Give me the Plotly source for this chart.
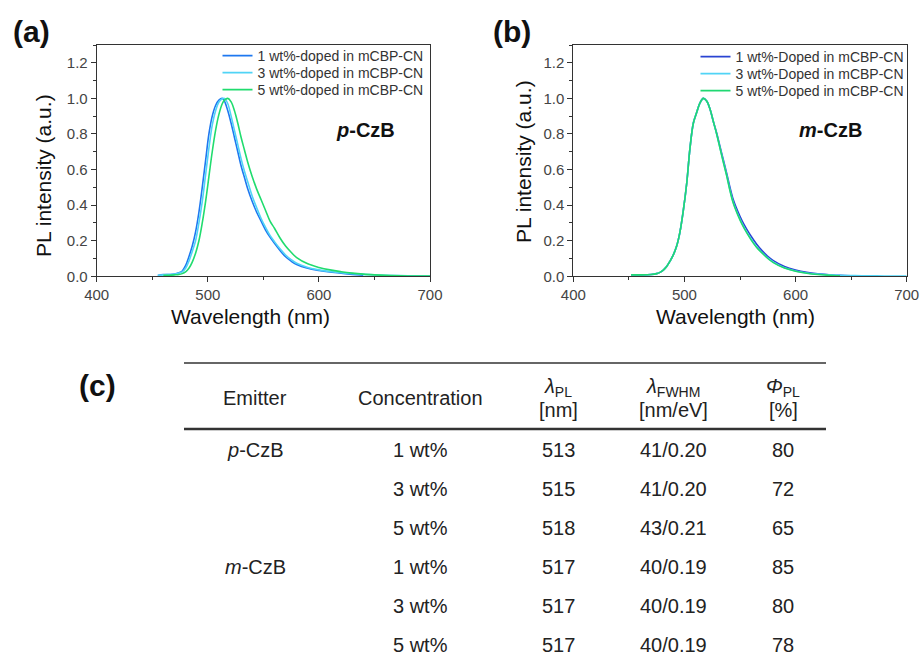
import plotly.graph_objects as go

W, H = 920, 659

# ---------------- data: panel (a) p-CzB ----------------
wl_a = [455, 460, 465, 470, 474, 477, 480, 483, 486, 489, 492, 495, 498, 501, 504, 507, 510, 513, 515, 518,
        521, 524, 527, 530, 533, 536, 540, 544, 548, 552, 556, 560, 565, 570, 575, 580, 590, 600, 610, 620,
        630, 640, 650, 660, 680, 700]
pl_a_1wt = [0.005, 0.010, 0.010, 0.012, 0.020, 0.030, 0.060, 0.110, 0.170, 0.250, 0.360, 0.500, 0.650, 0.800, 0.900,
            0.960, 0.990, 1.000, 0.985, 0.930, 0.860, 0.780, 0.700, 0.620, 0.555, 0.490, 0.420, 0.360, 0.310, 0.260,
            0.220, 0.185, 0.145, 0.110, 0.085, 0.066, 0.045, 0.033, 0.024, 0.017, 0.011, 0.006, None, None, None, None]
pl_a_3wt = [0.005, 0.008, 0.010, 0.012, 0.018, 0.025, 0.045, 0.085, 0.140, 0.200, 0.300, 0.420, 0.570, 0.720, 0.850,
            0.930, 0.980, 0.998, 1.000, 0.970, 0.900, 0.820, 0.740, 0.660, 0.590, 0.530, 0.450, 0.385, 0.325, 0.275,
            0.230, 0.195, 0.155, 0.120, 0.094, 0.073, 0.050, 0.036, 0.027, 0.020, 0.015, 0.011, 0.008, 0.006, 0.003, 0.001]
pl_a_5wt = [None, 0.005, 0.006, 0.008, 0.010, 0.015, 0.025, 0.045, 0.080, 0.130, 0.200, 0.300, 0.420, 0.560, 0.700,
            0.820, 0.910, 0.970, 0.990, 1.000, 0.980, 0.930, 0.860, 0.780, 0.710, 0.640, 0.560, 0.490, 0.430, 0.370,
            0.310, 0.270, 0.215, 0.170, 0.135, 0.105, 0.070, 0.050, 0.036, 0.026, 0.018, 0.012, 0.008, 0.005, 0.002, 0.001]
names_a = ["1 wt%-doped in mCBP-CN", "3 wt%-doped in mCBP-CN", "5 wt%-doped in mCBP-CN"]

# ---------------- data: panel (b) m-CzB ----------------
wl_b = [452, 460, 470, 475, 478, 481, 484, 487, 490, 493, 496, 499, 502, 505, 508, 511, 514, 517, 520, 523,
        526, 529, 532, 535, 538, 541, 544, 548, 552, 556, 560, 565, 570, 575, 580, 590, 600, 610, 620, 630,
        640, 650, 660, 680, 700]
pl_b_1wt = [0.008, 0.008, 0.010, 0.015, 0.022, 0.035, 0.055, 0.085, 0.120, 0.170, 0.250, 0.370, 0.520, 0.720, 0.860,
            0.920, 0.975, 1.000, 0.985, 0.940, 0.870, 0.805, 0.730, 0.655, 0.580, 0.500, 0.430, 0.365, 0.310, 0.265,
            0.225, 0.180, 0.143, 0.112, 0.088, 0.055, 0.035, 0.022, 0.014, 0.009, 0.005, 0.003, 0.002, None, None]
pl_b_3wt = [0.008, 0.008, 0.010, 0.015, 0.022, 0.035, 0.055, 0.085, 0.120, 0.170, 0.250, 0.370, 0.520, 0.720, 0.860,
            0.920, 0.975, 1.000, 0.985, 0.940, 0.870, 0.800, 0.722, 0.645, 0.570, 0.485, 0.415, 0.350, 0.295, 0.250,
            0.210, 0.166, 0.133, 0.103, 0.080, 0.048, 0.030, 0.019, 0.012, 0.008, 0.005, 0.004, 0.003, 0.002, 0.001]
pl_b_5wt = [0.008, 0.008, 0.010, 0.015, 0.022, 0.035, 0.055, 0.085, 0.120, 0.170, 0.250, 0.370, 0.520, 0.720, 0.860,
            0.920, 0.975, 1.000, 0.985, 0.940, 0.870, 0.800, 0.720, 0.640, 0.565, 0.480, 0.410, 0.345, 0.290, 0.245,
            0.205, 0.162, 0.130, 0.100, 0.077, 0.046, 0.028, 0.017, 0.010, 0.006, 0.003, None, None, None, None]
names_b = ["1 wt%-Doped in mCBP-CN", "3 wt%-Doped in mCBP-CN", "5 wt%-Doped in mCBP-CN"]

colors_a = ["#1E78F0", "#50D4F6", "#20DC6E"]
colors_b = ["#2A44D2", "#50D4F6", "#20D872"]

# ---------------- data: table (c) ----------------
col_headers = ["Emitter", "Concentration", "<i>λ</i><sub>PL</sub>", "<i>λ</i><sub>FWHM</sub>", "<i>Φ</i><sub>PL</sub>"]
col_units = ["", "", "[nm]", "[nm/eV]", "[%]"]
emitters = ["<i>p</i>-CzB", "", "", "<i>m</i>-CzB", "", ""]
concentrations = ["1 wt%", "3 wt%", "5 wt%", "1 wt%", "3 wt%", "5 wt%"]
lam_pl = [513, 515, 518, 517, 517, 517]
fwhm = ["41/0.20", "41/0.20", "43/0.21", "40/0.19", "40/0.19", "40/0.19"]
plqy = [80, 72, 65, 85, 80, 78]

FONT = "Arial, Liberation Sans, sans-serif"

def px(x):
    return x / W

def py(y):
    return 1 - y / H

fig = go.Figure()

legend_ids_a = ["legend", "legend2", "legend3"]
legend_ids_b = ["legend4", "legend5", "legend6"]

for ys, nm, c, lg in zip([pl_a_1wt, pl_a_3wt, pl_a_5wt], names_a, colors_a, legend_ids_a):
    fig.add_trace(go.Scatter(x=wl_a, y=ys, name=nm, mode="lines", line=dict(color=c, width=1.6, shape="spline"),
                             xaxis="x", yaxis="y", legend=lg, connectgaps=False))
for ys, nm, c, lg in zip([pl_b_1wt, pl_b_3wt, pl_b_5wt], names_b, colors_b, legend_ids_b):
    fig.add_trace(go.Scatter(x=wl_b, y=ys, name=nm, mode="lines", line=dict(color=c, width=1.6, shape="spline"),
                             xaxis="x2", yaxis="y2", legend=lg, connectgaps=False))

axis_common = dict(showline=True, linecolor="#333", linewidth=1, mirror=True, showgrid=False, zeroline=False,
                   ticks="outside", ticklen=5, tickwidth=1, tickcolor="#333", automargin=False,
                   tickfont=dict(family=FONT, size=15, color="#444"))
xa = dict(range=[400, 700], dtick=100, tick0=400, minor=dict(ticks="outside", ticklen=3, dtick=50, tickcolor="#333"),
          **axis_common)
ya = dict(range=[0, 1.3], dtick=0.2, tick0=0, tickformat=".1f",
          minor=dict(ticks="outside", ticklen=3, dtick=0.1, tickcolor="#333"), **axis_common)

yd = [py(276.3), py(45)]
fig.update_layout(
    width=W, height=H, margin=dict(l=0, r=0, t=0, b=0, autoexpand=False),
    paper_bgcolor="white", plot_bgcolor="white",
    font=dict(family=FONT, color="#222"),
    xaxis=dict(domain=[px(96.7), px(430)], anchor="y", **xa),
    yaxis=dict(domain=yd, anchor="x", **ya),
    xaxis2=dict(domain=[px(573.3), px(906.7)], anchor="y2", **xa),
    yaxis2=dict(domain=yd, anchor="x2", **ya),
    showlegend=True,
)

leg_rows_a = [56, 73, 90]
leg_rows_b = [57, 74, 91]
leg_common = dict(xanchor="left", yanchor="middle", bgcolor="rgba(0,0,0,0)", borderwidth=0,
                  font=dict(family=FONT, size=14, color="#333"), itemwidth=30)
for lg, yy in zip(legend_ids_a, leg_rows_a):
    fig.update_layout({lg: dict(x=px(217.5), y=py(yy), **leg_common)})
for lg, yy in zip(legend_ids_b, leg_rows_b):
    fig.update_layout({lg: dict(x=px(695.5), y=py(yy), **leg_common)})

ann = []
def add_text(x, y, text, size, bold=False, color="#111", angle=0):
    ann.append(dict(x=px(x), y=py(y), xref="paper", yref="paper", text=(f"<b>{text}</b>" if bold else text),
                    showarrow=False, xanchor="center", yanchor="middle", textangle=angle,
                    font=dict(family=FONT, size=size, color=color)))

# panel labels
add_text(31, 32, "(a)", 30, bold=True)
add_text(512, 32, "(b)", 30, bold=True)
add_text(97, 385, "(c)", 30, bold=True)
# compound labels
add_text(365, 130, "<i>p</i>-CzB", 20, bold=True)
add_text(830, 130, "<i>m</i>-CzB", 20, bold=True)
# axis titles
add_text(250, 316, "Wavelength (nm)", 21)
add_text(735, 316, "Wavelength (nm)", 21)
add_text(44, 176, "PL intensity (a.u.)", 21, angle=-90)
add_text(524, 162, "PL intensity (a.u.)", 21, angle=-90)

# table
col_x = [255, 420, 558, 673, 783]
tcol = "#222"
for i, (hd, un) in enumerate(zip(col_headers, col_units)):
    if un:
        add_text(col_x[i], 387, hd, 20, color=tcol)
        add_text(col_x[i], 410, un, 20, color=tcol)
    else:
        add_text(col_x[i], 398, hd, 20, color=tcol)

row_y0, row_dy = 450, 39
for r in range(len(lam_pl)):
    yy = row_y0 + r * row_dy
    vals = [emitters[r], concentrations[r], str(lam_pl[r]), fwhm[r], str(plqy[r])]
    for i, v in enumerate(vals):
        if v:
            add_text(col_x[i], yy, v, 20, color=tcol)

fig.update_layout(annotations=ann)

fig.update_layout(shapes=[
    dict(type="line", xref="paper", yref="paper", x0=px(184), x1=px(826), y0=py(363), y1=py(363),
         line=dict(color="#333", width=1.5)),
    dict(type="line", xref="paper", yref="paper", x0=px(184), x1=px(826), y0=py(429), y1=py(429),
         line=dict(color="#333", width=2.5)),
])

fig.write_html("out.html", config=dict(displayModeBar=False),
               post_script="document.body.style.margin='0px';document.body.style.padding='0px';"
                           "document.documentElement.style.overflow='hidden';")
